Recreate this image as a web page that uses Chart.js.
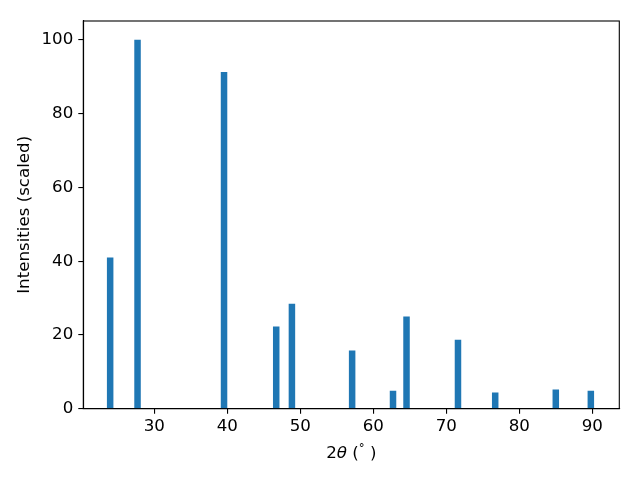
<!DOCTYPE html>
<html>
<head>
<meta charset="utf-8">
<script src="https://cdn.jsdelivr.net/npm/chart.js@4/dist/chart.umd.min.js"></script>
<style>
html,body{margin:0;padding:0;background:#fff;}
#wrap{width:640px;height:480px;position:relative;}
</style>
</head>
<body>
<div id="wrap"><canvas id="c" width="640" height="480"></canvas></div>
<script>
// Data
const twoTheta = [23.95, 27.7, 39.55, 46.7, 48.85, 57.1, 62.7, 64.55, 71.6, 76.7, 85.0, 89.8];
const intensities = [40.9, 100, 91.2, 22.2, 28.4, 15.7, 4.8, 24.9, 18.6, 4.3, 5.1, 4.8];
const xTicks = [30, 40, 50, 60, 70, 80, 90];
const yTicks = [0, 20, 40, 60, 80, 100];
const yLabel = 'Intensities (scaled)';
const xLabelParts = ['2', 'θ', ' (', '°', ' )'];

const FONT = 'DejaVu Sans';
const FS = 16.67;

const points = twoTheta.map((x, i) => ({x: x, y: intensities[i]}));

const framePlugin = {
  id: 'frame',
  afterDraw(chart) {
    const a = chart.chartArea, ctx = chart.ctx;
    ctx.save();
    ctx.strokeStyle = '#000';
    ctx.lineWidth = 1.1;
    ctx.strokeRect(a.left, a.top, a.right - a.left, a.bottom - a.top);
    // x axis title with math-style parts: 2θ (°)
    const normal = FS + 'px "' + FONT + '"';
    const italic = 'italic ' + FS + 'px "' + FONT + '"';
    const small = (FS * 0.7) + 'px "' + FONT + '"';
    const fonts = [normal, italic, normal, small, normal];
    const dy = [0, 0, 0, -6, 0];
    let widths = xLabelParts.map((t, i) => { ctx.font = fonts[i]; return ctx.measureText(t).width; });
    const total = widths.reduce((s, w) => s + w, 0);
    let x = (a.left + a.right) / 2 - total / 2;
    const base = 458;
    ctx.fillStyle = '#000';
    ctx.textBaseline = 'alphabetic';
    ctx.textAlign = 'left';
    xLabelParts.forEach((t, i) => {
      ctx.font = fonts[i];
      ctx.fillText(t, x, base + dy[i]);
      x += widths[i];
    });
    ctx.restore();
  }
};

new Chart(document.getElementById('c'), {
  type: 'bar',
  data: {
    datasets: [{
      data: points,
      backgroundColor: '#1f77b4',
      borderWidth: 0,
      barThickness: 5.84,
      grouped: false
    }]
  },
  options: {
    responsive: false,
    animation: false,
    devicePixelRatio: 1,
    layout: {padding: {top: 21, right: 20.7, left: 0, bottom: 0}},
    plugins: {legend: {display: false}, tooltip: {enabled: false}},
    scales: {
      x: {
        type: 'linear',
        min: 20.27,
        max: 93.7,
        offset: false,
        afterBuildTicks: s => { s.ticks = xTicks.map(v => ({value: v})); },
        afterFit: s => { s.height = 71.3; },
        grid: {offset: false, drawOnChartArea: false, drawTicks: true, tickLength: 5, color: '#000', lineWidth: 1.1},
        border: {display: true, color: '#000', width: 1.1},
        ticks: {color: '#000', font: {family: FONT, size: FS}, padding: 3, maxRotation: 0,
          callback: v => String(v)}
      },
      y: {
        type: 'linear',
        min: 0,
        max: 105.15,
        afterBuildTicks: s => { s.ticks = yTicks.map(v => ({value: v})); },
        afterFit: s => { s.width = 83.3; },
        grid: {offset: false, drawOnChartArea: false, drawTicks: true, tickLength: 5, color: '#000', lineWidth: 1.1},
        border: {display: true, color: '#000', width: 1.1},
        ticks: {color: '#000', font: {family: FONT, size: FS}, padding: 5,
          callback: v => String(v)},
        title: {display: true, text: yLabel, color: '#000', font: {family: FONT, size: FS},
          padding: {top: 15, bottom: 0}}
      }
    }
  },
  plugins: [framePlugin]
});
</script>
</body>
</html>
